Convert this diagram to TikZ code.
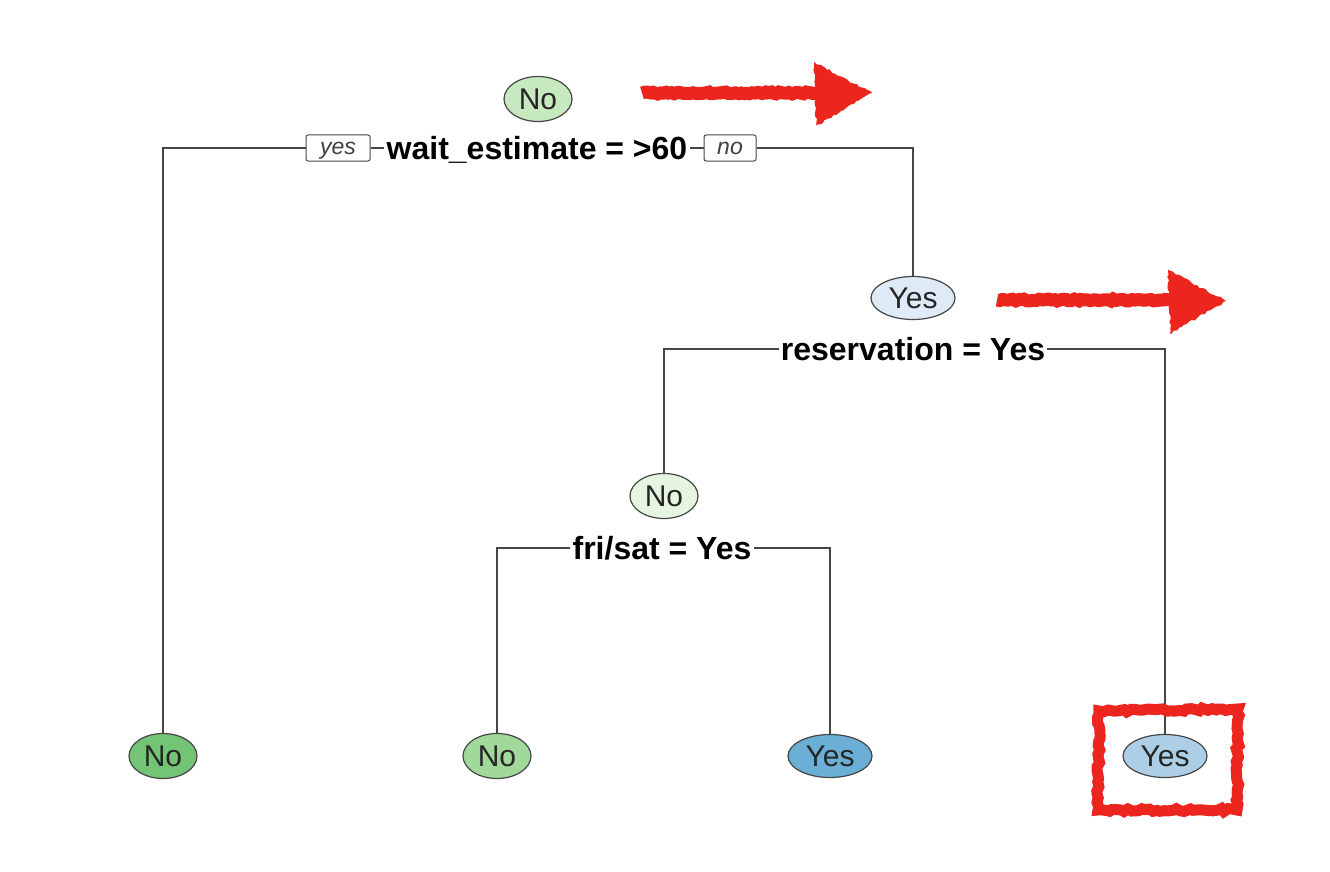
\documentclass[tikz,border=0pt]{standalone}
\usepackage{fontspec}
\setmainfont{Liberation Sans}
\usetikzlibrary{shapes.geometric,decorations.pathmorphing}
\definecolor{edgegray}{RGB}{70,70,70}
\definecolor{rootgreen}{RGB}{199,233,192}
\definecolor{palegreen}{RGB}{229,245,224}
\definecolor{leafgreenA}{RGB}{116,196,118}
\definecolor{leafgreenB}{RGB}{161,217,155}
\definecolor{paleblue}{RGB}{222,235,247}
\definecolor{leafblueA}{RGB}{107,174,214}
\definecolor{leafblueB}{RGB}{172,207,229}
\definecolor{markred}{RGB}{236,38,30}
\tikzset{
  x=1pt,y=-1pt,
  treenode/.style={ellipse,draw=edgegray,line width=1.2pt,inner sep=0pt,
    font=\fontsize{30}{30}\selectfont,text=black!85,text height=21.5pt,text depth=0pt},
  nonode/.style={treenode,minimum width=68pt,minimum height=45pt},
  yesnode/.style={treenode,minimum width=84pt,minimum height=43pt},
  splitlabel/.style={inner xsep=2pt,inner ysep=0pt,font=\bfseries\fontsize{32}{32}\selectfont,
    text height=23pt,text depth=0pt},
  tagbox/.style={draw=edgegray,rounded corners=2pt,line width=1pt,inner sep=0pt,
    minimum height=26pt,font=\itshape\fontsize{23}{23}\selectfont,text=black!75,
    text height=14pt,text depth=1pt},
  edge/.style={draw=edgegray,line width=1.4pt},
  redmark/.style={markred,line width=13pt,decorate,
    decoration={random steps,segment length=3pt,amplitude=1pt}},
}
\begin{document}
\begin{tikzpicture}
\useasboundingbox[fill=white] (0,0) rectangle (1330,872);
% nodes
\node[nonode,fill=rootgreen] (root) at (538,99) {No};
\node[splitlabel] (s1) at (537,148) {wait\_estimate = >60};
\node[tagbox,minimum width=64pt] (yes) at (338,148) {yes};
\node[tagbox,minimum width=52pt] (no) at (730,148) {no};
\node[yesnode,fill=paleblue] (n2) at (913,298) {Yes};
\node[splitlabel] (s2) at (913,349) {reservation = Yes};
\node[nonode,fill=palegreen] (n3) at (664,496) {No};
\node[splitlabel] (s3) at (662,548) {fri/sat = Yes};
\node[nonode,fill=leafgreenA] (l1) at (163,756) {No};
\node[nonode,fill=leafgreenB] (l2) at (497,756) {No};
\node[yesnode,fill=leafblueA] (l3) at (830,756) {Yes};
\node[yesnode,fill=leafblueB] (l4) at (1165,756) {Yes};
% connectors
\draw[edge] (s1.west) -- (yes.east);
\draw[edge] (yes.west) -| (l1.north);
\draw[edge] (s1.east) -- (no.west);
\draw[edge] (no.east) -| (n2.north);
\draw[edge] (s2.west) -| (n3.north);
\draw[edge] (s2.east) -| (l4.north);
\draw[edge] (s3.west) -| (l2.north);
\draw[edge] (s3.east) -| (l3.north);
% red annotations
\coordinate (a1s) at (642,93);
\coordinate (a1e) at (822,93);
\coordinate (a2s) at (997,300);
\coordinate (a2e) at (1172,300);
\draw[redmark] (a1s) -- (a1e);
\fill[markred,decorate,decoration={random steps,segment length=3pt,amplitude=1.2pt}]
  (814,62) -- (872,93) -- (816,126) -- cycle;
\draw[redmark] (a2s) -- (a2e);
\fill[markred,decorate,decoration={random steps,segment length=3pt,amplitude=1.2pt}]
  (1168,270) -- (1226,301) -- (1170,334) -- cycle;
\draw[markred,line width=11pt,decorate,decoration={random steps,segment length=4pt,amplitude=1.5pt}]
  (1099,711) -- (1238,709) -- (1237,810) -- (1098,810) -- cycle;
\end{tikzpicture}
\end{document}
